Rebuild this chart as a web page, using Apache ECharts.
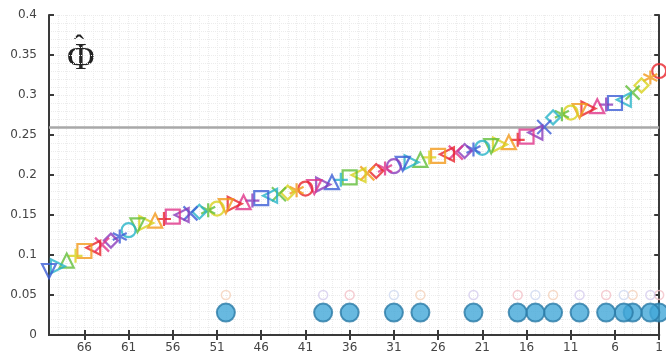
<!DOCTYPE html>
<html>
<head>
<meta charset="utf-8">
<script src="https://cdn.jsdelivr.net/npm/echarts@6/dist/echarts.min.js"></script>
<style>
  html, body { margin: 0; padding: 0; background: #fff; }
  #chart { width: 666px; height: 354px; }
</style>
</head>
<body>
<div id="chart"></div>
<script>
// ranks 1..70, axis drawn right-to-left (70 on the left)
const ranks = Array.from({ length: 70 }, (_, i) => String(i + 1))

// estimated phi-hat per rank, rank 1 first
const phiHat = [
  0.330, 0.322, 0.312, 0.303, 0.294, 0.290, 0.288, 0.286, 0.283, 0.280,
  0.278, 0.276, 0.272, 0.260, 0.253, 0.248, 0.244, 0.241, 0.238, 0.236,
  0.234, 0.232, 0.230, 0.228, 0.226, 0.224, 0.222, 0.219, 0.216, 0.214,
  0.211, 0.208, 0.205, 0.202, 0.200, 0.197, 0.194, 0.191, 0.188, 0.185,
  0.183, 0.181, 0.178, 0.176, 0.174, 0.171, 0.168, 0.166, 0.164, 0.161,
  0.158, 0.156, 0.154, 0.152, 0.150, 0.148, 0.145, 0.143, 0.140, 0.137,
  0.131, 0.123, 0.118, 0.113, 0.109, 0.105, 0.099, 0.093, 0.086, 0.080,
]

// ranks flagged with the big blue dots (and the small pale rings above)
const flaggedRanks = [1, 2, 4, 5, 7, 10, 13, 15, 17, 22, 28, 31, 36, 39, 50]
const flagDotY = 0.028
const flagRingY = 0.05

const thresholdY = 0.256

const palette = ['#e8242c', '#f29a1c', '#d8d21e', '#62be3a', '#27b4c8', '#3c5ed6', '#8a3cbc', '#e0358a']
const ringPalette = ['#f3c2c8', '#d6cdee', '#f4d2bc', '#cfd9f0']
const shapes = [
  'circle',
  'path://M5,0V10M0.7,2.5L9.3,7.5M0.7,7.5L9.3,2.5',
  'diamond',
  'path://M0,0L10,10M10,0L0,10',
  'path://M10,0V10L1,5Z',
  'rect',
  'path://M5,0V10M0,5H10',
  'triangle',
  'path://M0,0V10L9,5Z',
  'path://M0,0H10L5,9Z',
]

const chart = echarts.init(document.getElementById('chart'))

const curveData = phiHat.map((v, i) => ({
  value: [ranks[i], v],
  symbol: shapes[i % shapes.length],
  itemStyle: {
    color: 'transparent',
    borderColor: palette[i % palette.length],
    borderWidth: 2.2,
  },
}))

const ringData = flaggedRanks.map((r, i) => ({
  value: [String(r), flagRingY],
  itemStyle: { color: 'transparent', borderColor: ringPalette[i % ringPalette.length], borderWidth: 1.5 },
}))

const axisColor = '#3a3a3a'
const gridDots = { show: true, lineStyle: { color: '#ececec', type: 'dotted', width: 1 } }
const tickEvery5 = (i, v) => (v - 1) % 5 === 0

chart.setOption({
  animation: false,
  grid: { left: 49, right: 3, top: 15, bottom: 19 },
  graphic: [
    {
      type: 'text',
      left: 67,
      top: 40,
      style: { text: 'Φ', font: '38px "Liberation Serif"', fill: '#222' },
    },
    {
      type: 'text',
      left: 74,
      top: 32,
      style: { text: 'ˆ', font: '30px "Liberation Serif"', fill: '#222' },
    },
  ],
  xAxis: [
    {
      type: 'category',
      data: ranks,
      inverse: true,
      boundaryGap: false,
      axisLine: { lineStyle: { color: axisColor, width: 2 } },
      axisTick: { inside: true, length: 5, interval: tickEvery5, lineStyle: { width: 2, color: axisColor } },
      axisLabel: { interval: tickEvery5, color: '#444', fontSize: 12, fontFamily: 'DejaVu Sans', margin: 7 },
      splitLine: { show: true, interval: 0, lineStyle: { color: '#ececec', type: 'dotted' } },
    },
    {
      type: 'category',
      data: ranks,
      inverse: true,
      boundaryGap: false,
      position: 'top',
      axisLine: { lineStyle: { color: axisColor, width: 2 } },
      axisTick: { inside: true, length: 5, interval: tickEvery5, lineStyle: { width: 2, color: axisColor } },
      axisLabel: { show: false },
      splitLine: { show: false },
    },
  ],
  yAxis: [
    {
      type: 'value',
      min: 0,
      max: 0.4,
      interval: 0.05,
      axisLine: { show: true, lineStyle: { color: axisColor, width: 2 } },
      axisTick: { show: true, inside: true, length: 5, lineStyle: { width: 2, color: axisColor } },
      axisLabel: { color: '#444', fontSize: 12, fontFamily: 'DejaVu Sans', margin: 12 },
      splitLine: gridDots,
      minorTick: { show: false, splitNumber: 5 },
      minorSplitLine: gridDots,
    },
    {
      type: 'value',
      min: 0,
      max: 0.4,
      interval: 0.05,
      position: 'right',
      axisLine: { show: true, lineStyle: { color: axisColor, width: 2 } },
      axisTick: { show: true, inside: true, length: 5, lineStyle: { width: 2, color: axisColor } },
      axisLabel: { show: false },
      splitLine: { show: false },
    },
  ],
  series: [
    {
      type: 'line',
      data: [],
      markLine: {
        silent: true,
        symbol: 'none',
        label: { show: false },
        lineStyle: { color: '#a8a8a8', width: 2.5, type: 'solid' },
        data: [{ yAxis: thresholdY }],
      },
    },
    {
      type: 'scatter',
      symbolSize: 9,
      data: ringData,
      z: 3,
    },
    {
      type: 'scatter',
      symbolSize: 18,
      data: flaggedRanks.map(r => [String(r), flagDotY]),
      itemStyle: { color: '#42a7d8', borderColor: '#2b7aa6', borderWidth: 2 },
      z: 4,
    },
    {
      type: 'scatter',
      symbolSize: 14,
      data: curveData,
      z: 5,
    },
  ],
})
</script>
</body>
</html>
